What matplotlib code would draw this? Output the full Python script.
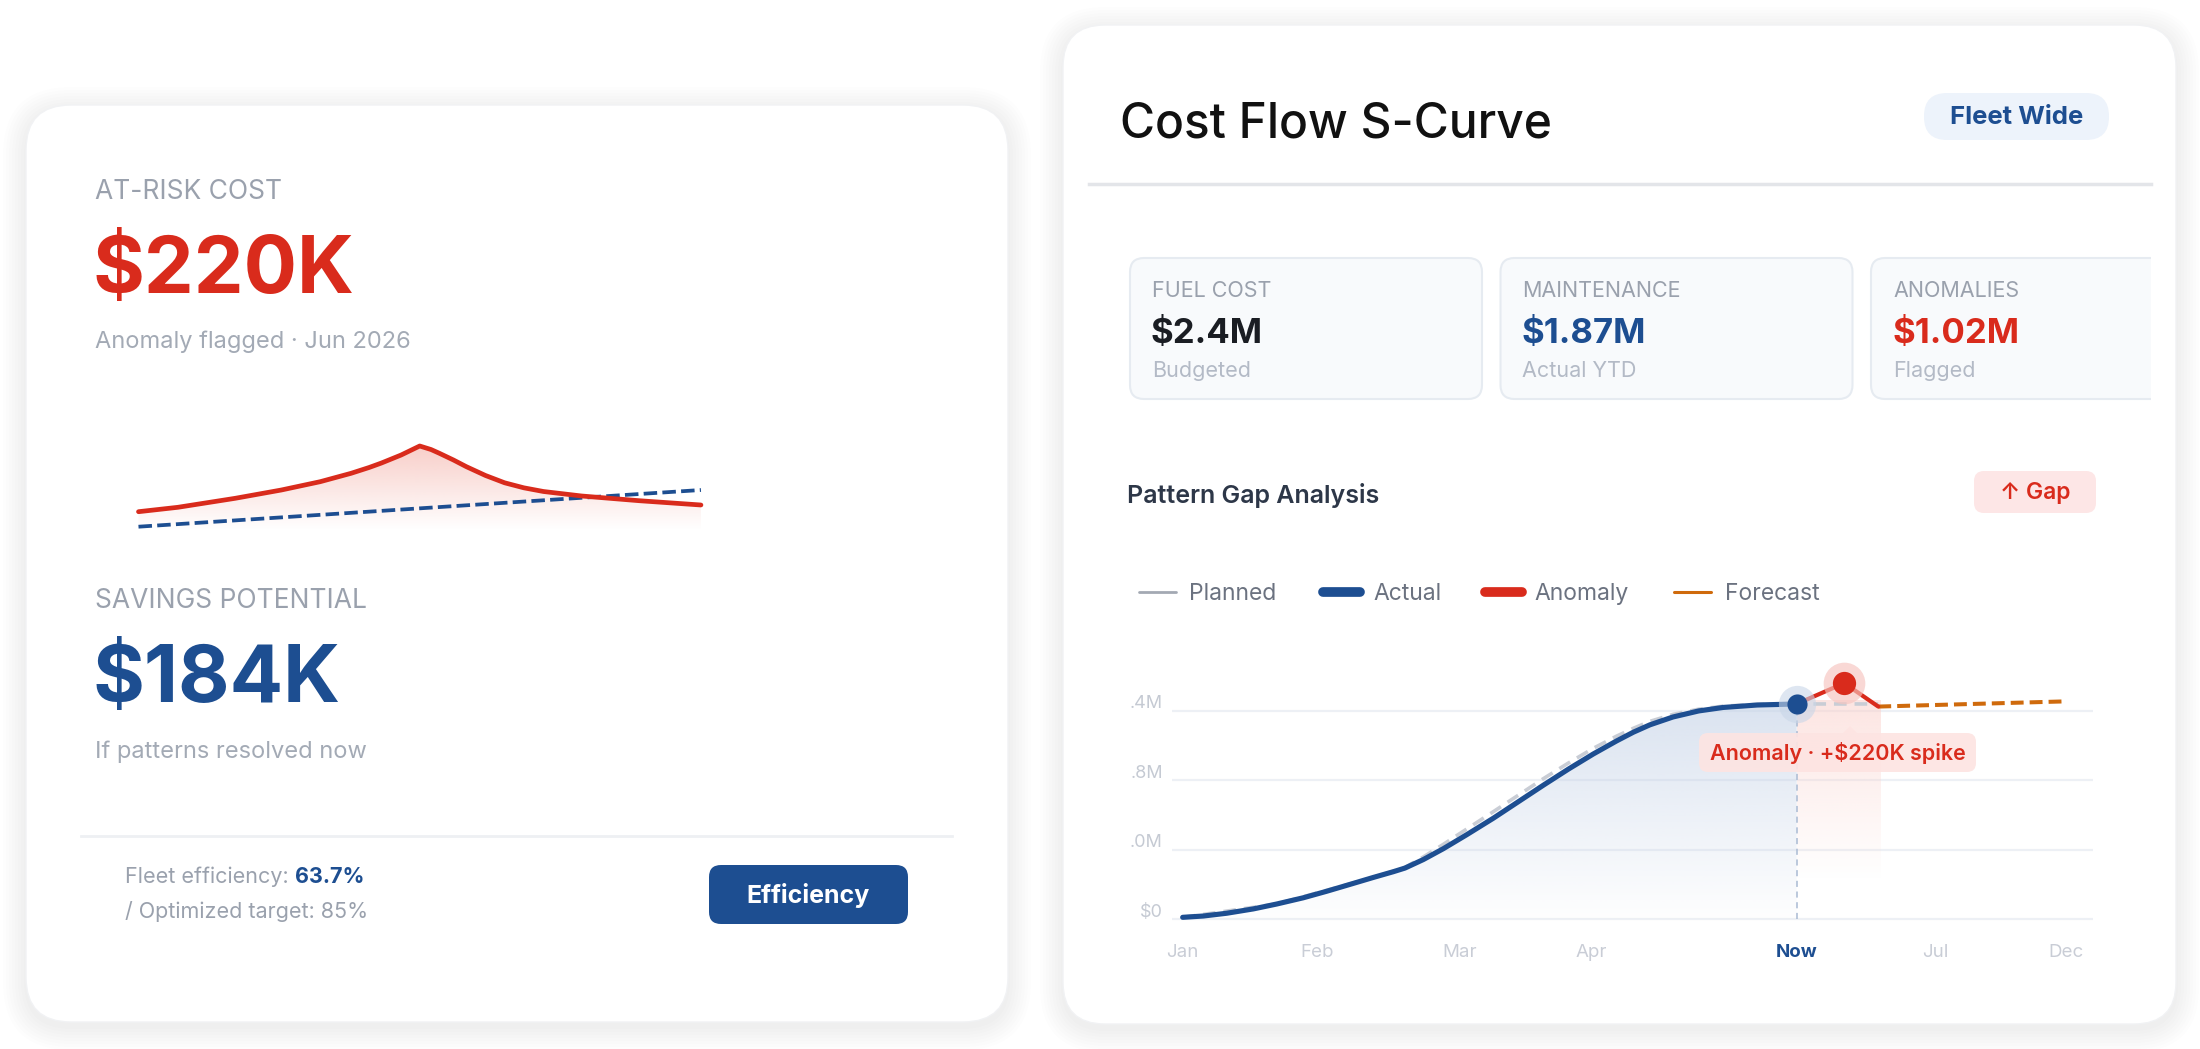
import numpy as np
import matplotlib
matplotlib.use("Agg")
import matplotlib.pyplot as plt
from matplotlib.patches import FancyBboxPatch, Rectangle, Polygon
from matplotlib.colors import to_rgb

plt.rcParams['font.family'] = ['Inter', 'DejaVu Sans']

W, H = 2200, 1049

# left card sparkline (at-risk vs baseline)
spark_x = [0, 0.70, 1.72, 2.54, 3.23, 3.78, 4.10, 4.32, 4.67, 5.0, 5.20, 5.35, 5.60, 5.83, 6.17, 6.51, 6.85, 7.2, 7.88, 8.9, 10.0]
spark_risk = [1.83, 2.27, 3.17, 4.0, 4.83, 5.67, 6.25, 6.7, 7.5, 8.4, 8.05, 7.67, 7.0, 6.33, 5.45, 4.72, 4.22, 3.85, 3.4, 2.93, 2.5]
spark_base_x = [0, 10]
spark_base = [0.33, 4.0]

# main S-curve ($M)
months = ["Jan", "Feb", "Mar", "Apr", "Now", "Jul", "Dec"]
month_pos = [0, 0.99, 2.04, 3.01, 4.52, 5.54, 6.50]
y_ticks = [0, 0.8, 1.6, 2.4]
y_labels = ["$0", ".0M", ".8M", ".4M"]
actual_x = [0.005, 0.157, 0.329, 0.525, 0.696, 0.892, 1.064, 1.235, 1.407, 1.554, 1.640, 1.775, 1.922,
            2.093, 2.289, 2.473, 2.657, 2.841, 3.025, 3.196, 3.319, 3.441, 3.61, 3.80, 3.98, 4.23, 4.52]
actual_y = [0.025, 0.04, 0.072, 0.122, 0.178, 0.250, 0.325, 0.404, 0.484, 0.550, 0.592, 0.69, 0.815,
            0.975, 1.165, 1.355, 1.545, 1.73, 1.905, 2.055, 2.155, 2.24, 2.33, 2.40, 2.44, 2.468, 2.48]
planned_x = [0.005, 0.696, 1.407, 1.554, 1.640, 1.775, 1.922, 2.093, 2.289, 2.473, 2.657, 2.841, 3.025,
             3.196, 3.319, 3.441, 3.61, 3.80, 3.98, 4.23, 4.52, 5.12]
planned_y = [0.025, 0.178, 0.484, 0.555, 0.60, 0.72, 0.865, 1.04, 1.24, 1.43, 1.62, 1.80, 1.97,
             2.11, 2.20, 2.28, 2.36, 2.42, 2.455, 2.475, 2.48, 2.48]
anomaly_x = [4.52, 4.87, 5.12]
anomaly_y = [2.48, 2.72, 2.45]
forecast_x = [5.12, 6.50]
forecast_y = [2.45, 2.51]
band_x = [4.52, 5.14]
band_y = [0.45, 2.52]

# kpi tiles
kpi_labels = ["FUEL COST", "MAINTENANCE", "ANOMALIES"]
kpi_values = ["$2.4M", "$1.87M", "$1.02M"]
kpi_subs = ["Budgeted", "Actual YTD", "Flagged"]

RED = "#d92b1c"
BLUE = "#1d4e91"
GREY = "#9aa1ad"
SUB = "#a3aab5"

fig = plt.figure(figsize=(W / 100, H / 100), dpi=100)
fig.patch.set_facecolor("white")
bg = fig.add_axes([0, 0, 1, 1])
bg.set_xlim(0, W)
bg.set_ylim(H, 0)
bg.axis("off")


def px_axes(x0, y0, x1, y1):
    return fig.add_axes([x0 / W, 1 - y1 / H, (x1 - x0) / W, (y1 - y0) / H])


def rbox(x0, y0, x1, y1, r, fc, ec="none", lw=0, z=1, alpha=1, ax=None, clip=None):
    a = ax or bg
    p = FancyBboxPatch((x0 + r, y0 + r), (x1 - x0) - 2 * r, (y1 - y0) - 2 * r,
                       boxstyle=f"round,pad={r},rounding_size={r}", fc=fc, ec=ec, lw=lw,
                       zorder=z, alpha=alpha, transform=bg.transData, clip_on=clip is not None)
    a.add_patch(p)
    if clip is not None:
        p.set_clip_path(clip)
    return p


def card(x0, y0, x1, y1, r):
    for i in range(8):
        g = 2 + i * 3
        rbox(x0 - g, y0 - g + 5, x1 + g, y1 + g + 5, r + g, "#1f2937", alpha=0.008, z=0.5)
    rbox(x0, y0, x1, y1, r, "white", ec="#f1f2f4", lw=1, z=1)


def gradient(ax, x, y, y0, color, a_top, a_bot, z, ytop=None):
    poly = ax.fill_between(x, y, y0, facecolor="none", edgecolor="none")
    img = np.zeros((256, 1, 4))
    img[..., :3] = to_rgb(color)
    img[:, 0, 3] = np.linspace(a_bot, a_top, 256)
    top = ytop if ytop is not None else max(y)
    im = ax.imshow(img, aspect="auto", origin="lower", extent=[min(x), max(x), y0, top],
                   zorder=z, interpolation="bilinear")
    im.set_clip_path(poly.get_paths()[0], transform=ax.transData)


card(26, 105, 1008, 1022, 45)
card(1063, 25, 2176, 1024, 42)

# ---- left card text
bg.text(95, 199, "AT-RISK COST", fontsize=19, color=GREY, va="baseline")
bg.text(93, 293, "$220K", fontsize=57, color=RED, weight="bold", va="baseline")
bg.text(95, 348, "Anomaly flagged · Jun 2026", fontsize=17, color=SUB, va="baseline")
bg.text(95, 608, "SAVINGS POTENTIAL", fontsize=19, color=GREY, va="baseline")
bg.text(93, 702, "$184K", fontsize=57, color=BLUE, weight="bold", va="baseline")
bg.text(95, 758, "If patterns resolved now", fontsize=17, color=SUB, va="baseline")
bg.plot([81, 952], [836, 836], color="#eef0f3", lw=2, zorder=2)
t = bg.text(125, 887, "Fleet efficiency: ", fontsize=15.5, color=GREY, va="bottom")
bg.annotate("63.7%", xy=(1, 0), xycoords=t, fontsize=15.5, color=BLUE, weight="bold", va="bottom")
bg.text(125, 922, "/ Optimized target: 85%", fontsize=15.5, color=GREY, va="bottom")
rbox(709, 865, 908, 924, 12, BLUE, z=2)
bg.text(808.5, 895, "Efficiency", fontsize=18, color="white", weight="bold", ha="center", va="center", zorder=3)

# sparkline
sp = px_axes(125, 430, 715, 540)
sp.axis("off")
gradient(sp, spark_x, spark_risk, 0, "#f3a79d", 0.55, 0.0, 1)
sp.plot(spark_base_x, spark_base, color=BLUE, lw=2.7, dashes=(3.6, 1.4), zorder=2)
sp.plot(spark_x, spark_risk, color=RED, lw=3.4, solid_capstyle="round", solid_joinstyle="round", zorder=3)
sp.set_xlim(-0.24, 10.25)
sp.set_ylim(-1.0, 10.0)

# ---- right card header
bg.text(1120, 138, "Cost Flow S-Curve", fontsize=34.5, color="#111111", va="baseline", weight="medium")
rbox(1924, 93, 2109, 140, 23, "#edf3fb", z=2)
bg.text(2016.5, 117, "Fleet Wide", fontsize=18.5, color=BLUE, weight="bold", ha="center", va="center", zorder=3)
bg.plot([1089, 2151], [184, 184], color="#e3e5e9", lw=2.5, zorder=2)

clip = Rectangle((1089, 240), 1062, 180, transform=bg.transData)
for i, (lab, val, sub) in enumerate(zip(kpi_labels, kpi_values, kpi_subs)):
    x0 = 1130 + i * 370.5
    rbox(x0, 258, x0 + 352, 399, 14, "#f8fafc", ec="#e6ebf1", lw=1.5, z=2, clip=clip)
    bg.text(x0 + 22, 297, lab, fontsize=15.5, color=GREY, va="baseline", zorder=3)
    col = ["#1a1d23", BLUE, RED][i]
    bg.text(x0 + 21, 343, val, fontsize=25, color=col, weight="bold", va="baseline", zorder=3)
    bg.text(x0 + 22, 377, sub, fontsize=15.5, color="#b3bac6", va="baseline", zorder=3)

bg.text(1127, 503, "Pattern Gap Analysis", fontsize=18, color="#2d3748", weight="semibold", va="baseline")
rbox(1974, 471, 2096, 513, 10, "#fde6e6", z=2)
bg.text(2035, 493, "↑ Gap", fontsize=16.5, color=RED, weight="semibold", ha="center", va="center",
        zorder=3, family=["Inter", "DejaVu Sans"])

# legend
leg = [("Planned", 1136, "#a3a9b3", 2.0, 1189), ("Actual", 1320, BLUE, 7, 1373),
       ("Anomaly", 1482, RED, 7, 1534), ("Forecast", 1671, "#cf6a0c", 2.2, 1725)]
for name, lx, c, lw, tx in leg:
    bg.plot([lx + 3, lx + 40], [592, 592], color=c, lw=lw, solid_capstyle="round", zorder=2)
    bg.text(tx, 600, name, fontsize=16.5, color="#6b7280", va="baseline")

# ---- main chart
ax = px_axes(1172, 640, 2093, 925)
ax.axis("off")
for yt, yl in zip(y_ticks, y_labels):
    ax.axhline(yt, color="#edf0f5", lw=1.6, zorder=0.5)
    ax.text(-0.01, yt + 0.085, yl, transform=ax.get_yaxis_transform(), fontsize=13,
            color="#c5cad3", ha="right", va="center")
for mp, mn in zip(month_pos, months):
    now = mn == "Now"
    ax.text(mp, -0.38, mn, fontsize=13.5, ha="center", va="center",
            color=BLUE if now else "#c9cdd6", weight="bold" if now else "normal", clip_on=False)

gradient(ax, actual_x, actual_y, 0, "#c4d2e7", 0.62, 0.02, 1)
gradient(ax, band_x, [band_y[1], band_y[1]], band_y[0], "#fbd0cb", 0.55, 0.0, 1.2)
ax.plot([month_pos[4], month_pos[4]], [0, actual_y[-1]], color="#a9bad3", lw=1.1, dashes=(4, 3), zorder=1.5)
ax.plot(planned_x, planned_y, color="#c9cdd5", lw=2.6, dashes=(3.5, 2.2), zorder=2)
ax.plot(actual_x, actual_y, color=BLUE, lw=3.7, solid_capstyle="round", solid_joinstyle="round", zorder=3)
ax.plot(forecast_x, forecast_y, color="#cf6a0c", lw=2.9, dashes=(3.2, 1.5), zorder=3.2)
ax.plot(anomaly_x, anomaly_y, color=RED, lw=3.0, solid_joinstyle="round", solid_capstyle="round", zorder=3.5)
ax.scatter([actual_x[-1]], [actual_y[-1]], s=720, color="#c9d6e8", alpha=0.6, lw=0, zorder=4)
ax.scatter([actual_x[-1]], [actual_y[-1]], s=210, color=BLUE, lw=0, zorder=5)
ax.scatter([anomaly_x[1]], [anomaly_y[1]], s=900, color="#f6c4bf", alpha=0.65, lw=0, zorder=4)
ax.scatter([anomaly_x[1]], [anomaly_y[1]], s=280, color=RED, lw=0, zorder=5)
ax.set_xlim(-0.0735, 6.699)
ax.set_ylim(-0.0633, 3.216)

# annotation callout
rbox(1699, 733, 1976, 772, 9, "#fde4e2", z=6, alpha=0.92, ax=ax)
ax.add_patch(Polygon([[1842, 734], [1850, 726], [1858, 734]], closed=True, fc="#fde4e2", ec="none",
                     alpha=0.92, transform=bg.transData, zorder=6, clip_on=False))
ax.text(1837.5, 753, "Anomaly · +$220K spike", fontsize=15.5, color=RED, weight="semibold",
        ha="center", va="center", transform=bg.transData, zorder=7)

fig.savefig("out.png", dpi=100, facecolor="white")
